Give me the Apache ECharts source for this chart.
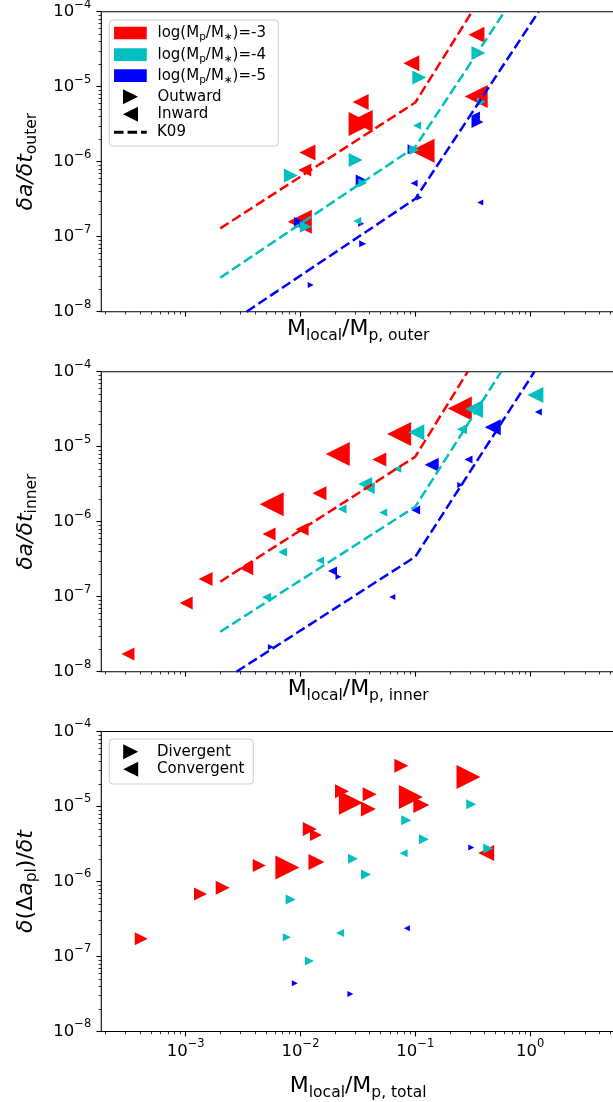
<!DOCTYPE html>
<html>
<head>
<meta charset="utf-8">
<script src="https://cdn.jsdelivr.net/npm/echarts@6.0.0/dist/echarts.min.js"></script>
<style>
html,body{margin:0;padding:0;background:#ffffff;}
#chart{width:613px;height:1102px;}
</style>
</head>
<body>
<div id="chart"></div>
<script>
// ---------- tick labels (powers of ten) ----------
const xTickExponents = [-3, -2, -1, 0];
const yTickExponents = [-8, -7, -6, -5, -4];

// ---------- panel 1: outer planet  [M_local/M_p,outer , da/dt_outer , marker size] ----------
const outerRedOutward  = [[0.0334, 3.18e-6, 24]];
const outerRedInward   = [[0.341, 4.93e-5, 16], [0.0923, 2.05e-5, 16], [0.339, 7.40e-6, 23], [0.0334, 6.25e-6, 16], [0.0341, 3.49e-6, 22], [0.0115, 1.33e-6, 16], [0.01089, 7.74e-7, 13], [0.1157, 1.40e-6, 24], [0.00986, 1.585e-7, 24]];
const outerBlueOutward = [[0.348, 3.38e-6, 12], [0.0338, 5.70e-7, 11], [0.0947, 1.46e-6, 10], [0.1084, 3.33e-7, 6], [0.0338, 1.49e-7, 6], [0.0348, 8.07e-8, 7], [0.01229, 2.27e-8, 6], [0.00992, 1.52e-7, 12]];
const outerBlueInward  = [[0.334, 4.06e-6, 9], [0.0977, 5.15e-7, 7], [0.368, 2.86e-7, 6]];
const outerCyanOutward = [[0.355, 2.81e-5, 14], [0.1084, 1.33e-5, 14], [0.377, 6.31e-6, 9], [0.00824, 6.55e-7, 14], [0.03027, 1.054e-6, 14], [0.0348, 5.20e-7, 9], [0.098, 1.43e-6, 10], [0.01112, 1.36e-7, 12]];
const outerCyanInward  = [[0.1037, 3.04e-6, 8], [0.0312, 1.62e-7, 8]];
const outerK09Red  = [[2e-3, 1.29e-7], [0.1, 6.15e-6], [0.312, 1e-4]];
const outerK09Cyan = [[2e-3, 2.84e-8], [0.1, 1.58e-6], [0.598, 1e-4]];
const outerK09Blue = [[3.39e-3, 1e-8], [0.1, 3.2e-7], [1.186, 1e-4]];

// ---------- panel 2: inner planet ----------
const innerRedOutward  = [];
const innerRedInward   = [[0.2443, 3.23e-5, 24], [0.0723, 1.476e-5, 24], [0.0211, 8.00e-6, 24], [0.0486, 6.75e-6, 14], [0.01462, 2.40e-6, 14], [0.00561, 1.71e-6, 24], [0.00532, 6.85e-7, 13], [0.01033, 7.94e-7, 13], [0.00337, 2.40e-7, 14], [0.00149, 1.72e-7, 14], [0.00101, 8.24e-8, 13], [0.000314, 1.72e-8, 13]];
const innerBlueOutward = [[0.246, 3.08e-6, 6], [0.0214, 1.84e-7, 6], [0.00552, 2.13e-8, 6]];
const innerBlueInward  = [[1.18, 2.90e-5, 7], [0.473, 1.82e-5, 16], [0.139, 5.74e-6, 14], [0.2907, 6.75e-6, 8], [0.1006, 1.43e-6, 9], [0.0190, 2.20e-7, 9], [0.0631, 9.9e-8, 6]];
const innerCyanOutward = [];
const innerCyanInward  = [[1.112, 4.89e-5, 16], [0.3246, 3.18e-5, 18], [0.255, 1.71e-5, 10], [0.102, 1.556e-5, 16], [0.0697, 5.07e-6, 8], [0.0366, 3.18e-6, 14], [0.0393, 2.81e-6, 12], [0.0230, 1.476e-6, 9], [0.0525, 1.33e-6, 8], [0.00698, 3.94e-7, 9], [0.0148, 3.04e-7, 8], [0.00506, 9.82e-8, 9]];
const innerK09Red  = [[2e-3, 1.585e-7], [0.1, 7.36e-6], [0.286, 1e-4]];
const innerK09Cyan = [[2e-3, 3.41e-8], [0.1, 1.585e-6], [0.56, 1e-4]];
const innerK09Blue = [[2.77e-3, 1e-8], [0.1, 3.41e-7], [1.09, 1e-4]];

// ---------- panel 3: separation change ----------
const totalRedDivergent   = [[0.0755, 3.50e-5, 14], [0.2907, 2.47e-5, 24], [0.0230, 1.596e-5, 14], [0.04004, 1.455e-5, 14], [0.02748, 1.124e-5, 24], [0.0390, 9.27e-6, 15], [0.0915, 1.34e-5, 24], [0.1128, 1.047e-5, 16], [0.01205, 5.01e-6, 14], [0.01365, 4.17e-6, 12], [0.01377, 1.82e-6, 16], [0.00769, 1.54e-6, 24], [0.00437, 1.63e-6, 13], [0.00210, 8.26e-7, 14], [0.001346, 6.81e-7, 13], [0.00041, 1.73e-7, 13]];
const totalRedConvergent  = [[0.4144, 2.40e-6, 16]];
const totalBlueDivergent  = [[0.3076, 2.83e-6, 6], [0.00892, 4.40e-8, 6], [0.0272, 3.16e-8, 6]];
const totalBlueConvergent = [[0.0845, 2.38e-7, 6]];
const totalCyanDivergent  = [[0.307, 1.069e-5, 10], [0.0834, 6.56e-6, 10], [0.1188, 3.67e-6, 10], [0.4315, 2.75e-6, 10], [0.02867, 2.01e-6, 10], [0.03718, 1.236e-6, 10], [0.0082, 5.74e-7, 10], [0.0076, 1.80e-7, 8], [0.01197, 8.71e-8, 9]];
const totalCyanConvergent = [[0.0791, 2.38e-6, 8], [0.0221, 2.06e-7, 8]];

// ---------- layout & style ----------
const FONT = 'DejaVu Sans';
const RED = '#ff0000', CYAN = '#00bfbf', BLUE = '#0000ff';
const GRID_TOPS = [11.7, 371.7, 731.5];
const GRID_LEFT = 101.3, GRID_W = 513.7, GRID_H = 300;
const X_MIN = 1.84e-4, X_MAX = 5.49, Y_MIN = 1e-8, Y_MAX = 1e-4;

const majorX = xTickExponents.map(e => Number('1e' + e));
const majorY = yTickExponents.map(e => Number('1e' + e));
function minorValues(lo, hi, min, max) {
  const out = [];
  for (let e = lo; e <= hi; e++) for (let m = 2; m <= 9; m++) {
    const v = Number(m + 'e' + e);
    if (v > min && v < max) out.push(v);
  }
  return out;
}
const minorX = minorValues(-4, 0, X_MIN, X_MAX);
const minorY = minorValues(-8, -5, Y_MIN, Y_MAX);

const TICK_RICH = {
  b: {fontFamily: FONT, fontSize: 16.5, lineHeight: 26, verticalAlign: 'middle', color: '#000'},
  e: {fontFamily: FONT, fontSize: 11.5, lineHeight: 14, verticalAlign: 'top', color: '#000'}
};
function powLabel(v) {
  const e = Math.round(Math.log10(v));
  return '{b|10}{e|' + (e < 0 ? '\u2212' : '') + Math.abs(e) + '}';
}
const NAME_RICH = {
  n: {fontFamily: FONT, fontSize: 22, lineHeight: 28, verticalAlign: 'middle', color: '#000'},
  i: {fontFamily: FONT, fontSize: 22, fontStyle: 'italic', lineHeight: 28, verticalAlign: 'middle', color: '#000'},
  s: {fontFamily: FONT, fontSize: 15.5, lineHeight: 14, verticalAlign: 'bottom', color: '#000'}
};
const X_NAMES = ['{n|M}{s|local}{n|/M}{s|p, outer}', '{n|M}{s|local}{n|/M}{s|p, inner}', '{n|M}{s|local}{n|/M}{s|p, total}'];
const Y_NAMES = ['{i|\u03b4a/\u03b4t}{s|outer}', '{i|\u03b4a/\u03b4t}{s|inner}', '{i|\u03b4}{n|(\u0394}{i|a}{s|pl}{n|)/}{i|\u03b4t}'];

const grids = [], xAxes = [], yAxes = [];
GRID_TOPS.forEach((top, i) => {
  grids.push({left: GRID_LEFT, top: top, width: GRID_W, height: GRID_H, show: true,
    borderColor: '#000', borderWidth: 1.1, backgroundColor: 'transparent', containLabel: false, outerBoundsMode: 'none'});
  xAxes.push({
    type: 'log', logBase: 10, gridIndex: i, min: X_MIN, max: X_MAX, position: 'bottom',
    axisLine: {show: false},
    axisTick: {show: true, inside: false, length: 4.9, lineStyle: {color: '#000', width: 1.1}, customValues: majorX},
    axisLabel: {show: i === 2, customValues: majorX, margin: 7, formatter: powLabel, rich: TICK_RICH, color: '#000'},
    splitLine: {show: false}, minorTick: {show: false}, minorSplitLine: {show: false},
    name: X_NAMES[i], nameLocation: 'middle', nameGap: i === 2 ? 41 : 4, nameMoveOverlap: false,
    nameTextStyle: {fontFamily: FONT, color: '#000', rich: NAME_RICH}
  });
  xAxes.push({
    type: 'log', logBase: 10, gridIndex: i, min: X_MIN, max: X_MAX, position: 'bottom',
    axisLine: {show: false},
    axisTick: {show: true, inside: false, length: 2.8, lineStyle: {color: '#000', width: 0.8}, customValues: minorX},
    axisLabel: {show: false}, splitLine: {show: false}
  });
  yAxes.push({
    type: 'log', logBase: 10, gridIndex: i, min: Y_MIN, max: Y_MAX, position: 'left',
    axisLine: {show: false},
    axisTick: {show: true, inside: false, length: 4.9, lineStyle: {color: '#000', width: 1.1}, customValues: majorY},
    axisLabel: {show: true, customValues: majorY, margin: 10, formatter: powLabel, rich: TICK_RICH, color: '#000'},
    splitLine: {show: false}, minorTick: {show: false}, minorSplitLine: {show: false},
    name: Y_NAMES[i], nameLocation: 'middle', nameRotate: 90, nameGap: 61, nameMoveOverlap: false,
    nameTextStyle: {fontFamily: FONT, color: '#000', rich: NAME_RICH}
  });
  yAxes.push({
    type: 'log', logBase: 10, gridIndex: i, min: Y_MIN, max: Y_MAX, position: 'left',
    axisLine: {show: false},
    axisTick: {show: true, inside: false, length: 2.8, lineStyle: {color: '#000', width: 0.8}, customValues: minorY},
    axisLabel: {show: false}, splitLine: {show: false}
  });
});

function scatterSeries(name, data, color, outward, panel) {
  return {type: 'scatter', name: name, xAxisIndex: panel * 2, yAxisIndex: panel * 2, data: data,
    symbol: 'triangle', symbolRotate: outward ? -90 : 90, symbolSize: v => v[2],
    itemStyle: {color: color, opacity: 1}, emphasis: {disabled: true}, silent: true, z: 2};
}
function k09Series(name, data, color, panel) {
  return {type: 'line', name: name, xAxisIndex: panel * 2, yAxisIndex: panel * 2, data: data,
    symbol: 'none', showSymbol: false, clip: true, silent: true, z: 3,
    lineStyle: {color: color, width: 2.5, type: [10, 4.2]}, itemStyle: {color: color}, emphasis: {disabled: true}};
}
function dummy(name, type, color) {
  const s = {type: type, name: name, xAxisIndex: 0, yAxisIndex: 0, data: [], itemStyle: {color: color, opacity: 1}, silent: true};
  if (type === 'line') s.lineStyle = {color: color, type: 'dashed', opacity: 1};
  return s;
}

const series = [
  scatterSeries('outer red outward', outerRedOutward, RED, true, 0),
  scatterSeries('outer red inward', outerRedInward, RED, false, 0),
  scatterSeries('outer blue outward', outerBlueOutward, BLUE, true, 0),
  scatterSeries('outer blue inward', outerBlueInward, BLUE, false, 0),
  scatterSeries('outer cyan outward', outerCyanOutward, CYAN, true, 0),
  scatterSeries('outer cyan inward', outerCyanInward, CYAN, false, 0),
  k09Series('outer K09 -3', outerK09Red, RED, 0),
  k09Series('outer K09 -4', outerK09Cyan, CYAN, 0),
  k09Series('outer K09 -5', outerK09Blue, BLUE, 0),

  scatterSeries('inner red outward', innerRedOutward, RED, true, 1),
  scatterSeries('inner red inward', innerRedInward, RED, false, 1),
  scatterSeries('inner blue outward', innerBlueOutward, BLUE, true, 1),
  scatterSeries('inner blue inward', innerBlueInward, BLUE, false, 1),
  scatterSeries('inner cyan outward', innerCyanOutward, CYAN, true, 1),
  scatterSeries('inner cyan inward', innerCyanInward, CYAN, false, 1),
  k09Series('inner K09 -3', innerK09Red, RED, 1),
  k09Series('inner K09 -4', innerK09Cyan, CYAN, 1),
  k09Series('inner K09 -5', innerK09Blue, BLUE, 1),

  scatterSeries('total red divergent', totalRedDivergent, RED, true, 2),
  scatterSeries('total red convergent', totalRedConvergent, RED, false, 2),
  scatterSeries('total blue divergent', totalBlueDivergent, BLUE, true, 2),
  scatterSeries('total blue convergent', totalBlueConvergent, BLUE, false, 2),
  scatterSeries('total cyan divergent', totalCyanDivergent, CYAN, true, 2),
  scatterSeries('total cyan convergent', totalCyanConvergent, CYAN, false, 2),

  dummy('log(Mp/M*)=-3', 'scatter', RED),
  dummy('log(Mp/M*)=-4', 'scatter', CYAN),
  dummy('log(Mp/M*)=-5', 'scatter', BLUE),
  dummy('Outward', 'scatter', '#000'),
  dummy('Inward', 'scatter', '#000'),
  dummy('K09', 'line', '#000'),
  dummy('Divergent', 'scatter', '#000'),
  dummy('Convergent', 'scatter', '#000')
];

// ---------- legends ----------
const LEG_RICH = {
  n: {fontFamily: FONT, fontSize: 15, lineHeight: 20, verticalAlign: 'middle', color: '#000'},
  s: {fontFamily: FONT, fontSize: 10.5, lineHeight: 12, verticalAlign: 'bottom', color: '#000'}
};
const legendLabels = {
  'log(Mp/M*)=-3': '{n|log(M}{s|p}{n|/M}{s|\u2217}{n|)=-3}',
  'log(Mp/M*)=-4': '{n|log(M}{s|p}{n|/M}{s|\u2217}{n|)=-4}',
  'log(Mp/M*)=-5': '{n|log(M}{s|p}{n|/M}{s|\u2217}{n|)=-5}'
};
const TRI_RIGHT = 'path://M0,0L10,5L0,10Z';
const TRI_LEFT = 'path://M10,0L0,5L10,10Z';
const DASH = 'path://M0,0h9.5v3h-9.5z M13.5,0h9.5v3h-9.5z M27,0h5.7v3h-5.7z';
function legendRow(name, icon, w, h, cx, cy, textX, color) {
  const left = cx - w / 2;
  return {
    show: true, data: [{name: name, icon: icon, itemStyle: {color: color, opacity: 1, borderWidth: 0}}],
    left: left, top: cy - 10, orient: 'horizontal',
    padding: 0, itemWidth: w, itemHeight: h, itemGap: 0, selectedMode: false, z: 10,
    itemStyle: {borderWidth: 0, opacity: 1}, lineStyle: {width: 0}, symbolRotate: 0,
    textStyle: {fontFamily: FONT, fontSize: 15, color: '#000', lineHeight: 20,
      padding: [0, 0, 0, textX - (left + w + 5)], rich: LEG_RICH},
    formatter: nm => legendLabels[nm] || '{n|' + nm + '}'
  };
}
const legends = [
  legendRow('log(Mp/M*)=-3', 'rect', 32.7, 12.7, 130.4, 33, 157.5, RED),
  legendRow('log(Mp/M*)=-4', 'rect', 32.7, 12.7, 130.4, 54.7, 157.5, CYAN),
  legendRow('log(Mp/M*)=-5', 'rect', 32.7, 12.7, 130.4, 75.7, 157.5, BLUE),
  legendRow('Outward', TRI_RIGHT, 15, 15, 130.5, 96.7, 157.5, '#000'),
  legendRow('Inward', TRI_LEFT, 15, 15, 130.5, 114.3, 157.5, '#000'),
  legendRow('K09', DASH, 32.7, 3, 130.4, 132.3, 157, '#000'),
  legendRow('Divergent', TRI_RIGHT, 15, 15, 130.7, 751.7, 157, '#000'),
  legendRow('Convergent', TRI_LEFT, 15, 15, 130.7, 769.3, 157, '#000')
];

const chart = echarts.init(document.getElementById('chart'), null, {renderer: 'canvas', width: 613, height: 1102});
chart.setOption({
  animation: false,
  backgroundColor: '#ffffff',
  textStyle: {fontFamily: FONT},
  grid: grids,
  xAxis: xAxes,
  yAxis: yAxes,
  legend: legends,
  graphic: [
    {type: 'rect', z: 1, silent: true, shape: {x: 109.3, y: 20, width: 169, height: 126, r: 3.5},
      style: {fill: 'transparent', stroke: '#cccccc', lineWidth: 1}},
    {type: 'rect', z: 1, silent: true, shape: {x: 109.3, y: 739, width: 144, height: 45, r: 3.5},
      style: {fill: 'transparent', stroke: '#cccccc', lineWidth: 1}}
  ],
  series: series
});
</script>
</body>
</html>
